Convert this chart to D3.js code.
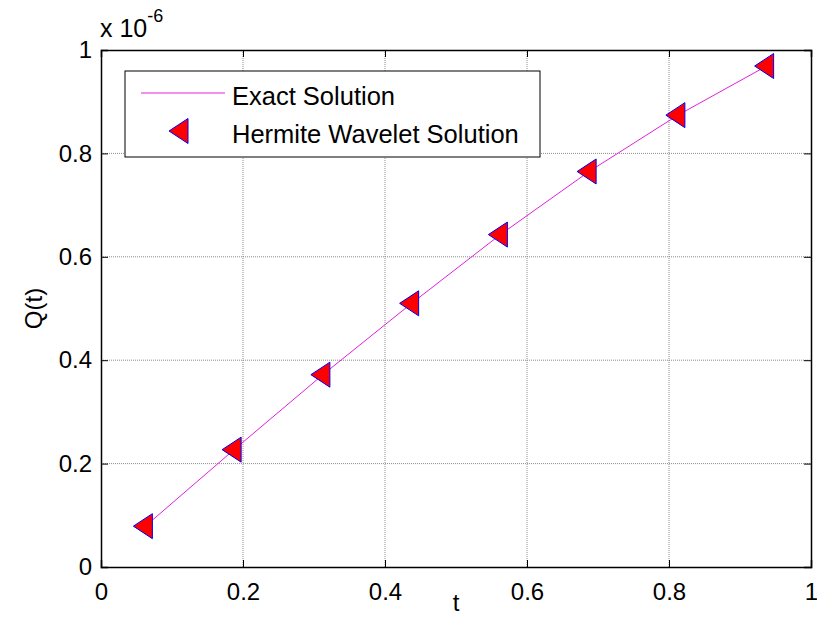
<!DOCTYPE html>
<html>
<head>
<meta charset="utf-8">
<script src="https://cdn.jsdelivr.net/npm/d3@7"></script>
<style>
  body { margin: 0; background: #fff; }
  svg text { font-family: "Liberation Sans", Arial, sans-serif; fill: #000; }
</style>
</head>
<body>
<div class="graph_area"></div>
<script>
// collocation points and solution values (Q in units of 1e-6)
const tValues = [0.0625, 0.1875, 0.3125, 0.4375, 0.5625, 0.6875, 0.8125, 0.9375]
const exactQ = [0.079, 0.227, 0.372, 0.510, 0.643, 0.765, 0.874, 0.969]
const hermiteQ = [0.079, 0.227, 0.372, 0.510, 0.643, 0.765, 0.874, 0.969]
const xTicks = [0, 0.2, 0.4, 0.6, 0.8, 1]
const yTicks = [0, 0.2, 0.4, 0.6, 0.8, 1]
const xTickLabels = ['0', '0.2', '0.4', '0.6', '0.8', '1']
const yTickLabels = ['0', '0.2', '0.4', '0.6', '0.8', '1']

const W = 817, H = 635
const margin = { top: 50, left: 101, right: 6, bottom: 68 }
const width = W - margin.left - margin.right
const height = H - margin.top - margin.bottom
const fs = 24

const xScale = d3.scaleLinear().domain([0, 1]).range([0, width])
const yScale = d3.scaleLinear().domain([0, 1]).range([height, 0])

const svg = d3.select('.graph_area').append('svg')
  .attr('width', W).attr('height', H)
const g = svg.append('g')
  .attr('transform', `translate(${margin.left},${margin.top})`)

// grid
g.append('g').selectAll('line').data(xTicks.slice(1, -1)).join('line')
  .attr('x1', d => xScale(d)).attr('x2', d => xScale(d))
  .attr('y1', 0).attr('y2', height)
  .attr('stroke', '#8c8c8c').attr('stroke-dasharray', '1,1')
g.append('g').selectAll('line').data(yTicks.slice(1, -1)).join('line')
  .attr('y1', d => yScale(d)).attr('y2', d => yScale(d))
  .attr('x1', 0).attr('x2', width)
  .attr('stroke', '#8c8c8c').attr('stroke-dasharray', '1,1')

// axes with inward ticks, box
const tick = 7
const axBottom = g.append('g').attr('transform', `translate(0,${height})`)
  .call(d3.axisBottom(xScale).tickValues(xTicks).tickSize(-tick).tickPadding(16)
    .tickFormat((d, i) => xTickLabels[i]))
const axTop = g.append('g')
  .call(d3.axisTop(xScale).tickValues(xTicks).tickSize(-tick).tickFormat(''))
const axLeft = g.append('g')
  .call(d3.axisLeft(yScale).tickValues(yTicks).tickSize(-tick).tickPadding(9)
    .tickFormat((d, i) => yTickLabels[i]))
const axRight = g.append('g').attr('transform', `translate(${width},0)`)
  .call(d3.axisRight(yScale).tickValues(yTicks).tickSize(-tick).tickFormat(''))

;[axBottom, axTop, axLeft, axRight].forEach(a => {
  a.select('.domain').attr('stroke', '#000').attr('stroke-width', 1.5)
  a.selectAll('.tick line').attr('stroke', '#000')
  a.selectAll('.tick text').attr('font-size', fs)
    .style('font-family', '"Liberation Sans", Arial, sans-serif')
})

// exact solution line
const line = d3.line()
  .x((d, i) => xScale(tValues[i]))
  .y(d => yScale(d))
g.append('path').datum(exactQ)
  .attr('fill', 'none').attr('stroke', '#e020e0').attr('stroke-width', 1)
  .attr('d', line)

// left-pointing triangle markers
const tri = 'M-12,0L7,-12.5L7,12.5Z'
g.append('g').selectAll('path').data(hermiteQ).join('path')
  .attr('transform', (d, i) => `translate(${xScale(tValues[i])},${yScale(d)})`)
  .attr('d', tri)
  .attr('fill', '#ff0000').attr('stroke', '#0000ff').attr('stroke-width', 1)

// axis labels
svg.append('text').attr('x', margin.left + width / 2).attr('y', 611)
  .attr('text-anchor', 'middle').attr('font-size', fs).text('t')
svg.append('text')
  .attr('transform', `translate(42,${margin.top + height / 2}) rotate(-90)`)
  .attr('text-anchor', 'middle').attr('font-size', fs).text('Q(t)')

// exponent
const ex = svg.append('text').attr('x', 100).attr('y', 37).attr('font-size', 25)
ex.append('tspan').text('x 10')
ex.append('tspan').attr('dy', -15).attr('font-size', 18).text('-6')

// legend
const lg = svg.append('g').attr('transform', 'translate(125,71)')
lg.append('rect').attr('width', 415).attr('height', 86)
  .attr('fill', '#fff').attr('stroke', '#000').attr('stroke-width', 1)
lg.append('line').attr('x1', 16).attr('x2', 100).attr('y1', 22).attr('y2', 22)
  .attr('stroke', '#e020e0').attr('stroke-width', 1)
lg.append('text').attr('x', 107).attr('y', 34).attr('font-size', 25.5).text('Exact Solution')
lg.append('path').attr('d', tri).attr('transform', 'translate(56,60)')
  .attr('fill', '#ff0000').attr('stroke', '#0000ff').attr('stroke-width', 1)
lg.append('text').attr('x', 107).attr('y', 72).attr('font-size', 25.5).text('Hermite Wavelet Solution')
</script>
</body>
</html>
